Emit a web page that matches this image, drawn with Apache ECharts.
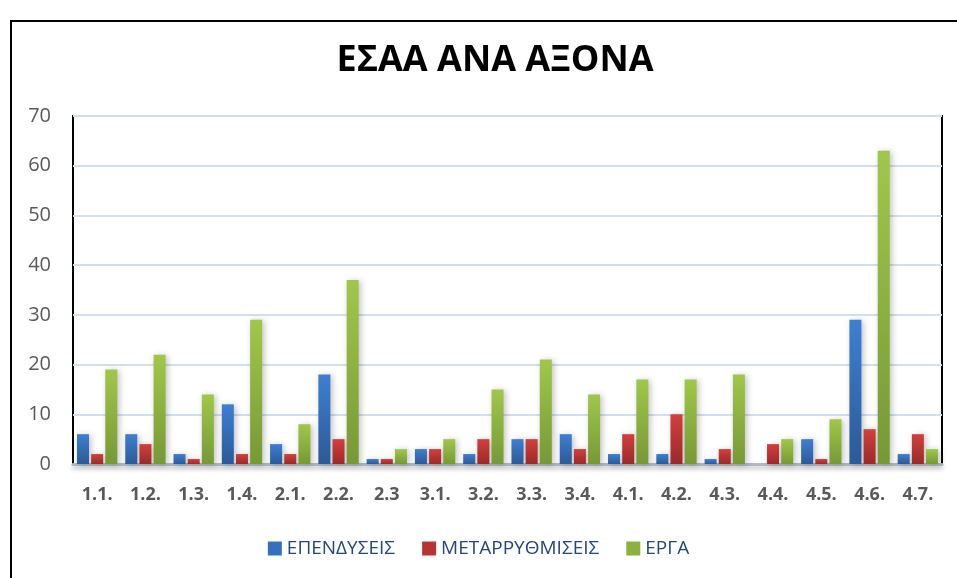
<!DOCTYPE html>
<html><head><meta charset="utf-8">
<script src="https://cdn.jsdelivr.net/npm/echarts@6/dist/echarts.min.js"></script>
<style>html,body{margin:0;padding:0;background:#fff}#c{width:957px;height:578px}</style>
</head><body><div id="c"></div>
<script>
const categories = ["1.1.","1.2.","1.3.","1.4.","2.1.","2.2.","2.3","3.1.","3.2.","3.3.","3.4.","4.1.","4.2.","4.3.","4.4.","4.5.","4.6.","4.7."];
const seriesNames = ["ΕΠΕΝΔΥΣΕΙΣ","ΜΕΤΑΡΡΥΘΜΙΣΕΙΣ","ΕΡΓΑ"];
const investments = [6,6,2,12,4,18,1,3,2,5,6,2,2,1,0,5,29,2];
const reforms = [2,4,1,2,2,5,1,3,5,5,3,6,10,3,4,1,7,6];
const projects = [19,22,14,29,8,37,3,5,15,21,14,17,17,18,5,9,63,3];
const yTicks = [0,10,20,30,40,50,60,70];

const chart = echarts.init(document.getElementById('c'), null, {renderer:'canvas'});
function grad(top, bottom){
  return new echarts.graphic.LinearGradient(0,0,0,1,[{offset:0,color:top},{offset:1,color:bottom}]);
}
const colors = [grad('#3D7FD3','#2B5A97'), grad('#D43F3C','#9A2A29'), grad('#9FC84A','#769935')];
const legendColors = ['#3470BE','#B83433','#8BB23F'];
const font = '"Open Sans", "Liberation Sans", sans-serif';
const mk = (name, data, i) => ({
  name, type:'bar', data, barWidth:12, barGap:'18%',
  itemStyle:{color:colors[i], shadowColor:'rgba(0,0,0,0.25)', shadowBlur:6, shadowOffsetX:2, shadowOffsetY:1},
  emphasis:{disabled:true}
});
chart.setOption({
  animation:false,
  color: legendColors,
  title:{text:'ΕΣΑΑ ΑΝΑ ΑΞΟΝΑ', left:490, top:38, textAlign:'center',
    textStyle:{fontFamily:font, fontSize:36, fontWeight:'bold', color:'#000'}},
  graphic:[
    {type:'rect', shape:{x:11, y:21, width:980, height:600}, style:{fill:'none', stroke:'#000', lineWidth:2}, silent:true},
  ],
  legend:{bottom:15, left:'center', itemWidth:14, itemHeight:14, itemGap:27, icon:'rect',
    textStyle:{fontFamily:font, fontSize:19, color:'#24477A'},
    data:seriesNames.map((n,i)=>({name:n, itemStyle:{color:legendColors[i]}}))},
  grid:{left:73, right:15, top:116, bottom:114, show:true, borderColor:'#000', borderWidth:2, backgroundColor:'transparent'},
  xAxis:{type:'category', data:categories,
    axisLine:{show:true, lineStyle:{color:'#AEB8C6', width:3, shadowColor:'rgba(0,0,0,0.25)', shadowBlur:4, shadowOffsetY:3}},
    axisTick:{show:false},
    axisLabel:{fontFamily:font, fontSize:18, fontWeight:'bold', color:'#595959', margin:22, interval:0}},
  yAxis:{type:'value', min:yTicks[0], max:yTicks[yTicks.length-1], interval:10,
    axisLine:{show:false}, axisTick:{show:false},
    axisLabel:{fontFamily:font, fontSize:20, color:'#595959', margin:22},
    splitLine:{lineStyle:{color:'#D3DEEE', width:2}}},
  series:[mk(seriesNames[0], investments, 0), mk(seriesNames[1], reforms, 1), mk(seriesNames[2], projects, 2)]
});
</script></body></html>
